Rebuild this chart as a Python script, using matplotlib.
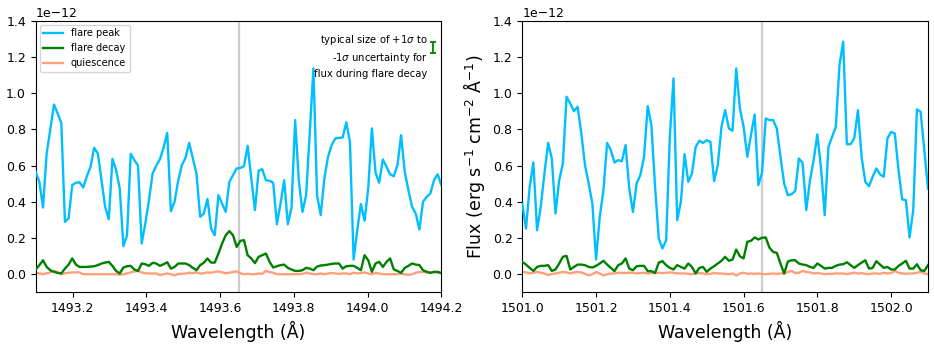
import numpy as np
import matplotlib
matplotlib.use("Agg")
import matplotlib.pyplot as plt

# ---------------- data (flux in units of 1e-12) ----------------
left_range = (1493.1, 1494.2)
right_range = (1501.0, 1502.1)
line_center_left = 1493.65
line_center_right = 1501.65

peak_left = [0.565,0.51,0.368,0.667,0.80,0.937,0.888,0.836,0.289,0.308,
             0.492,0.505,0.508,0.479,0.54,0.593,0.698,0.667,0.52,0.372,
             0.304,0.637,0.575,0.473,0.155,0.215,0.665,0.63,0.6,0.17,
             0.28,0.41,0.556,0.6,0.635,0.70,0.78,0.348,0.40,0.517,
             0.602,0.643,0.725,0.64,0.556,0.317,0.335,0.416,0.252,0.215,
             0.436,0.39,0.344,0.51,0.547,0.584,0.587,0.597,0.709,0.529,
             0.354,0.571,0.58,0.519,0.516,0.505,0.276,0.39,0.519,0.276,
             0.368,0.851,0.519,0.344,0.436,0.78,1.136,0.436,0.326,0.529,
             0.648,0.713,0.75,0.753,0.755,0.838,0.731,0.081,0.243,0.387,
             0.295,0.473,0.805,0.56,0.505,0.634,0.593,0.552,0.541,0.602,
             0.768,0.565,0.464,0.372,0.335,0.247,0.40,0.427,0.446,0.519,
             0.552,0.492]
decay_left = [0.026,0.05,0.077,0.04,0.022,0.013,0.007,0.004,0.031,0.053,
              0.087,0.053,0.04,0.04,0.04,0.042,0.044,0.05,0.059,0.064,
              0.068,0.046,0.018,0.004,0.037,0.044,0.046,0.026,0.018,0.059,
              0.055,0.046,0.063,0.059,0.046,0.055,0.066,0.031,0.04,0.059,
              0.059,0.059,0.05,0.035,0.022,0.05,0.063,0.087,0.064,0.064,
              0.114,0.169,0.215,0.238,0.215,0.151,0.184,0.188,0.105,0.087,
              0.061,0.096,0.105,0.114,0.068,0.037,0.044,0.05,0.053,0.035,
              0.026,0.018,0.018,0.022,0.035,0.031,0.022,0.042,0.048,0.05,
              0.053,0.057,0.059,0.059,0.031,0.044,0.046,0.046,0.035,0.022,
              0.105,0.077,0.013,0.059,0.068,0.04,0.068,0.087,0.026,0.018,
              0.007,0.035,0.046,0.059,0.053,0.05,0.022,0.013,0.007,0.013,
              0.013,0.007]
quiet_left = [0.007,0.004,0.0,0.005,0.01,0.018,0.012,0.0,0.005,0.008,
              0.01,0.01,0.01,0.0,0.0,0.0,0.0,0.0,0.0,0.0,
              0.0,0.0,0.0,-0.004,0.0,0.005,0.01,0.015,0.018,0.01,
              0.005,0.004,0.004,0.004,-0.005,0.0,0.004,0.0,-0.007,0.002,
              0.002,0.004,0.008,0.006,0.01,0.003,0.005,0.01,0.008,0.012,
              0.016,0.01,0.005,0.008,0.012,0.016,0.005,0.0,0.002,0.0,
              0.0,0.004,0.002,0.018,0.012,0.008,0.0,0.0,0.0,0.0,
              0.0,0.0,0.0,0.002,0.008,0.004,0.0,0.0,0.004,0.0,
              0.004,0.007,0.004,0.002,0.004,0.004,0.0,0.008,0.004,0.006,
              0.01,0.004,0.0,0.007,0.004,0.0,0.0,0.0,0.0,0.0,
              0.002,0.0,-0.004,0.0,0.008,0.012,0.012,0.01,0.012,0.01,
              0.008,0.006]

peak_right = [0.39,0.252,0.482,0.617,0.243,0.372,0.556,0.725,0.639,0.335,
              0.519,0.611,0.98,0.943,0.90,0.925,0.777,0.602,0.501,0.39,
              0.081,0.317,0.464,0.725,0.685,0.617,0.63,0.624,0.713,0.473,
              0.344,0.501,0.547,0.648,0.928,0.823,0.482,0.197,0.142,0.188,
              0.759,1.081,0.298,0.40,0.663,0.51,0.556,0.703,0.737,0.725,
              0.74,0.731,0.514,0.602,0.814,0.906,0.805,0.792,1.136,0.915,
              0.814,0.648,0.768,0.882,0.492,0.56,0.86,0.851,0.851,0.805,
              0.648,0.501,0.436,0.442,0.459,0.639,0.615,0.354,0.519,0.63,
              0.772,0.584,0.326,0.703,0.759,0.814,1.155,1.284,0.718,0.718,
              0.75,0.906,0.648,0.51,0.486,0.538,0.584,0.551,0.538,0.75,
              0.786,0.777,0.575,0.413,0.409,0.203,0.354,0.91,0.897,0.685,
              0.473]
decay_right = [0.068,0.053,0.035,0.018,0.04,0.046,0.046,0.05,0.018,0.026,
               0.059,0.096,0.101,0.026,0.04,0.053,0.053,0.05,0.04,0.037,
               0.046,0.059,0.074,0.053,0.035,0.017,0.05,0.059,0.087,0.031,
               0.022,0.044,0.046,0.046,0.017,0.017,0.007,0.064,0.072,0.05,
               0.035,0.026,0.05,0.04,0.031,0.059,0.04,0.004,0.035,0.04,
               0.013,0.031,0.044,0.059,0.074,0.096,0.074,0.081,0.136,0.099,
               0.087,0.179,0.184,0.203,0.192,0.201,0.203,0.147,0.123,0.118,
               0.059,0.004,0.07,0.077,0.077,0.059,0.053,0.05,0.04,0.035,
               0.059,0.046,0.031,0.035,0.035,0.046,0.053,0.055,0.066,0.05,
               0.035,0.05,0.064,0.077,0.031,0.035,0.072,0.053,0.035,0.04,
               0.026,0.026,0.046,0.059,0.074,0.031,0.031,0.055,0.022,0.018,
               0.05]
quiet_right = [0.013,0.01,0.004,0.008,0.013,0.008,0.004,-0.004,0.0,0.004,
               0.008,0.012,0.01,0.004,0.01,0.012,0.01,0.002,-0.007,0.0,
               0.012,0.004,-0.007,0.0,0.004,0.004,0.008,0.008,0.006,0.008,
               0.008,0.004,0.006,0.008,0.004,0.006,0.006,0.008,0.006,0.008,
               0.01,0.008,0.004,0.004,0.004,0.002,0.0,0.004,0.006,0.004,
               0.0,0.002,0.006,0.004,0.004,0.002,0.0,0.004,-0.007,0.004,
               0.008,0.002,0.004,0.002,0.004,0.0,0.0,0.002,0.004,0.002,
               0.004,0.004,0.012,0.018,0.006,0.008,0.018,0.012,0.01,0.004,
               0.006,0.004,0.0,0.002,0.002,0.004,0.004,0.004,0.0,0.004,
               0.008,0.004,0.006,0.002,0.0,0.004,0.004,0.002,0.008,0.004,
               0.006,0.018,0.008,0.004,0.002,0.004,0.004,0.008,0.012,0.004,
               0.0]

# typical uncertainty marker (flux during flare decay)
err_wl = 1494.177
err_center = 1.252
err_half = 0.033

SCALE = 1e-12

wl_left = np.linspace(left_range[0], left_range[1], len(peak_left))
wl_right = np.linspace(right_range[0], right_range[1], len(peak_right))

# ---------------- figure ----------------
fig = plt.figure(figsize=(9.34, 3.46), dpi=100)
W, H = 934, 346
ax1 = fig.add_axes([35.7 / W, 1 - 292.3 / H, 405.6 / W, 271.6 / H])
ax2 = fig.add_axes([522.3 / W, 1 - 292.3 / H, 405.7 / W, 271.6 / H])

c_peak = "deepskyblue"
c_decay = "green"
c_quiet = "lightsalmon"

for ax, wl, pk, dc, qt, lc, xr in [
    (ax1, wl_left, peak_left, decay_left, quiet_left, line_center_left, left_range),
    (ax2, wl_right, peak_right, decay_right, quiet_right, line_center_right, right_range),
]:
    ax.axvline(lc, color="#cccccc", lw=1.6, zorder=1)
    ax.plot(wl, np.array(pk) * SCALE, color=c_peak, lw=1.7, label="flare peak", zorder=3)
    ax.plot(wl, np.array(dc) * SCALE, color=c_decay, lw=1.7, label="flare decay", zorder=3)
    ax.plot(wl, np.array(qt) * SCALE, color=c_quiet, lw=1.7, label="quiescence", zorder=2)
    ax.set_xlim(*xr)
    ax.set_ylim(-0.1e-12, 1.4e-12)
    ax.set_xlabel("Wavelength (Å)", fontsize=12.5)
    ax.tick_params(labelsize=9)
    ax.yaxis.get_offset_text().set_fontsize(9)

ax1.set_xticks([1493.2, 1493.4, 1493.6, 1493.8, 1494.0, 1494.2])
ax2.set_xticks([1501.0, 1501.2, 1501.4, 1501.6, 1501.8, 1502.0])
ax2.set_ylabel(r"Flux (erg s$^{-1}$ cm$^{-2}$ Å$^{-1}$)", fontsize=12.5)

ax1.legend(loc="upper left", fontsize=7, handlelength=2.0, borderaxespad=0.4)

ax1.text(0.966, 0.955,
         "typical size of +1$\\sigma$ to\n-1$\\sigma$ uncertainty for\nflux during flare decay",
         transform=ax1.transAxes, ha="right", va="top", fontsize=7.2, linespacing=1.45)
ax1.errorbar([err_wl], [err_center * SCALE], yerr=[err_half * SCALE],
             color=c_decay, capsize=2.5, lw=1.3, capthick=1.3, fmt="none")

fig.savefig("out.png", dpi=100)
